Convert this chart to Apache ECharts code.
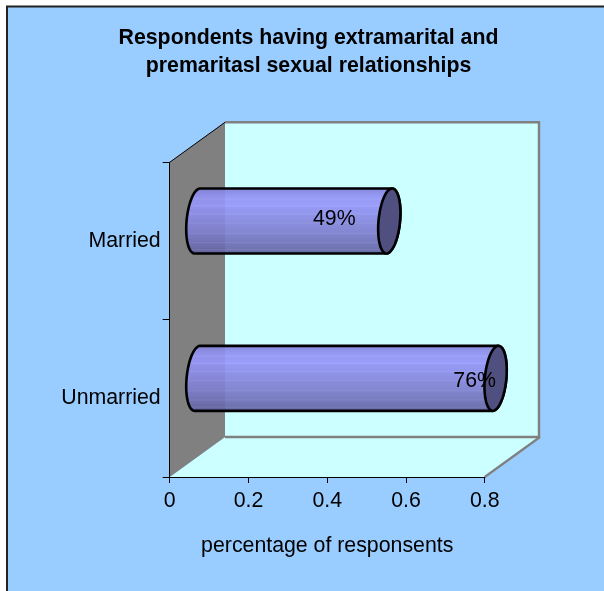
<!DOCTYPE html>
<html><head><meta charset="utf-8">
<style>html,body{margin:0;padding:0;background:#fff}#c{width:604px;height:591px}</style>
<script src="https://cdn.jsdelivr.net/npm/echarts@6/dist/echarts.min.js"></script>
</head><body><div id="c"></div>
<script>
const categories = ['Unmarried', 'Married'];
const values = [0.76, 0.49];
const dataLabels = ['76%', '49%'];
const axisTicks = [0, 0.2, 0.4, 0.6, 0.8];

const FONT = '"Liberation Sans", Arial, sans-serif';
const FS = 21.3;
const DX = 55.3, DY = -40;         // depth of the 3D box
const BAR_H = 65, RX = 10.8, SHEAR = -2.8;
const labelShift = [-21, -55], labelDy = [3, -2];
const chart = echarts.init(document.getElementById('c'), null, {renderer: 'canvas'});

function ellipsePts(cx, cy, rx, ry, from, to, n) {
  const out = [];
  for (let i = 0; i <= n; i++) {
    const t = from + (to - from) * i / n;
    out.push([cx + rx * Math.cos(t) + SHEAR * Math.sin(t), cy + ry * Math.sin(t)]);
  }
  return out;
}
const bodyStops = [
  [0,'#8080d4'],[0.06,'#8a8ae6'],[0.14,'#9494f4'],[0.16,'#9c9cf8'],[0.18,'#9494f4'],[0.25,'#9696fa'],[0.27,'#9e9efa'],
  [0.29,'#9292f2'],[0.38,'#8e8eec'],[0.39,'#9a9aee'],[0.41,'#8c8ce8'],[0.52,'#8686dc'],[0.53,'#9090de'],[0.55,'#8484d8'],
  [0.68,'#7e7ece'],[0.69,'#8686d0'],[0.71,'#7a7ac8'],[0.82,'#7272ba'],[0.83,'#7c7cc0'],[0.85,'#7070b6'],[0.93,'#6868aa'],
  [0.94,'#7474b0'],[0.96,'#6464a6'],[1,'#5c5c98']
];
const bodyFill = {
  type: 'linear', x: 0, y: 0, x2: 0, y2: 1,
  colorStops: bodyStops.map(s => ({offset: s[0], color: s[1]}))
};

function renderBox(params, api) {
  const cs = params.coordSys;
  const x0 = cs.x, x1 = cs.x + cs.width, y1 = cs.y, y0 = cs.y + cs.height;
  const line = (pts, stroke, w) => ({type: 'polyline', shape: {points: pts}, style: {stroke, lineWidth: w, fill: null}});
  return {type: 'group', children: [
    {type: 'polygon', shape: {points: [[x0+DX,y1+DY],[x1+DX,y1+DY],[x1+DX,y0+DY],[x0+DX,y0+DY]]}, style: {fill: '#ccffff', stroke: null}},
    {type: 'polygon', shape: {points: [[x0,y0],[x1,y0],[x1+DX,y0+DY],[x0+DX,y0+DY]]}, style: {fill: '#ccffff', stroke: null}},
    line([[x0+DX,y1+DY],[x1+DX-1,y1+DY],[x1+DX-1,y0+DY],[x0+DX,y0+DY]], '#808080', 2.4),
    line([[x1,y0],[x1+DX,y0+DY]], '#808080', 2.2),
    {type: 'polygon', shape: {points: [[x0,y0],[x0,y1],[x0+DX,y1+DY],[x0+DX,y0+DY]]}, style: {fill: '#808080', stroke: null}},
    line([[x0,y1],[x0+DX,y1+DY]], '#000', 1)
  ]};
}

function renderBar(params, api) {
  const i = params.dataIndex;
  const v = api.value(0), c = api.value(1);
  const s = api.coord([0, c]), p = api.coord([v, c]);
  const ry = BAR_H / 2;
  const lx = s[0] + DX / 2, rx = p[0] + DX / 2 - 1, cy = p[1] + DY / 2;
  const right = ellipsePts(rx, cy, RX, ry, -Math.PI/2, Math.PI/2, 24);
  const left = ellipsePts(lx, cy, RX, ry, Math.PI/2, 3*Math.PI/2, 24);
  const capPts = ellipsePts(rx, cy, RX, ry, 0, 2*Math.PI, 48);
  return {type: 'group', children: [
    {type: 'polygon', shape: {points: right.concat(left)}, style: {fill: bodyFill, opacity: 0.93, stroke: null}},
    {type: 'polygon', shape: {points: right.concat(left)}, style: {fill: null, stroke: '#000', lineWidth: 2.6}},
    {type: 'polygon', shape: {points: capPts}, style: {fill: '#4f4f80', stroke: '#000', lineWidth: 2.6}},
    {type: 'text', x: rx + labelShift[i], y: cy + labelDy[i],
      style: {text: dataLabels[i], font: FS + 'px ' + FONT, fill: '#000', align: 'center', verticalAlign: 'middle'}}
  ]};
}

chart.setOption({
  animation: false,
  backgroundColor: '#fff',
  graphic: [{type: 'rect', z: -1, shape: {x: 7, y: 6.5, width: 640, height: 640},
    style: {fill: '#99ccff', stroke: '#222', lineWidth: 2}}],
  title: {
    text: 'Respondents having extramarital and\npremaritasl sexual relationships',
    left: 303.5, top: 19, textAlign: 'center',
    textStyle: {fontFamily: FONT, fontWeight: 'bold', fontSize: FS, color: '#000', lineHeight: 28}
  },
  grid: {left: 169.7, top: 162.3, width: 315, height: 314.7},
  xAxis: {
    type: 'value', min: 0, max: 0.8, interval: 0.2, position: 'bottom', z: 5,
    name: 'percentage of responsents', nameLocation: 'middle', nameGap: 59,
    nameTextStyle: {fontFamily: FONT, fontSize: FS, color: '#000'},
    axisLine: {show: true, lineStyle: {color: '#000', width: 1}},
    axisTick: {show: true, length: 6, lineStyle: {color: '#000'}},
    splitLine: {show: false},
    axisLabel: {fontFamily: FONT, fontSize: FS, color: '#000', margin: 14,
      formatter: v => String(axisTicks.find(t => Math.abs(t - v) < 1e-6))}
  },
  yAxis: {
    type: 'category', data: categories, z: 5,
    axisLine: {show: true, onZero: false, lineStyle: {color: '#000', width: 1}},
    axisTick: {show: true, length: 7, lineStyle: {color: '#000'}},
    axisLabel: {fontFamily: FONT, fontSize: FS, color: '#000', margin: 9, padding: [2, 0, 0, 0]},
    splitLine: {show: false}
  },
  series: [
    {type: 'custom', coordinateSystem: 'cartesian2d', renderItem: renderBox, data: [[0, 0]], z: 1, silent: true, encode: {x: 0, y: 1}, clip: false},
    {type: 'custom', coordinateSystem: 'cartesian2d', renderItem: renderBar, z: 2, silent: true, encode: {x: 0, y: 1}, clip: false,
      data: values.map((v, i) => [v, i])}
  ]
});
</script></body></html>
